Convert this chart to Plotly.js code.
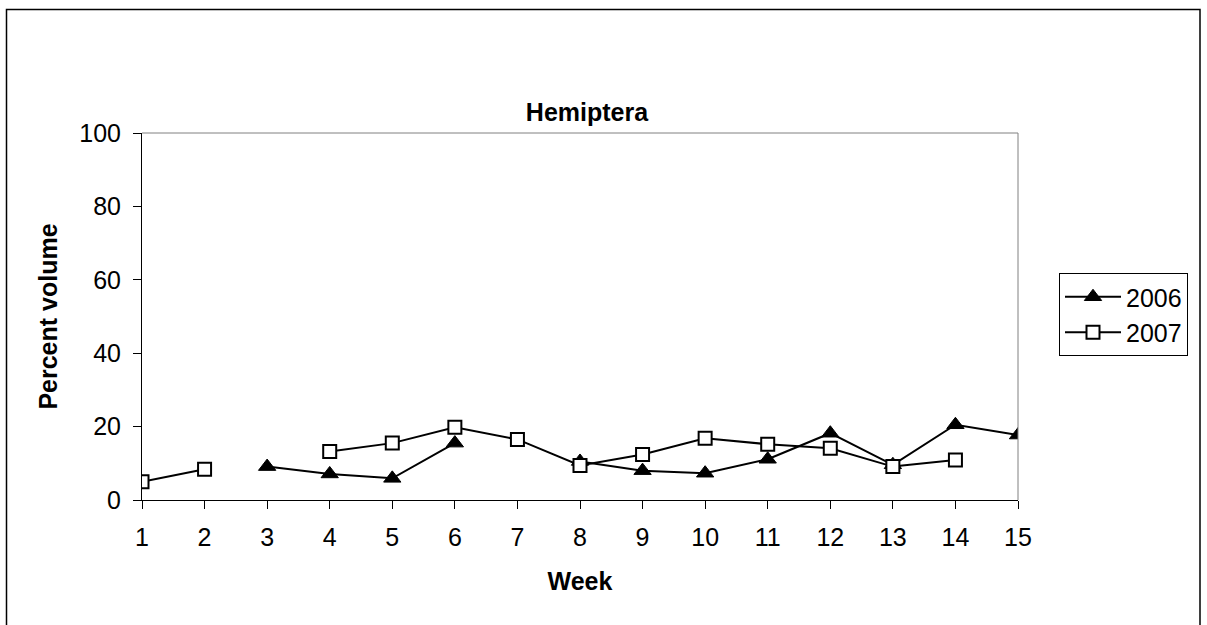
<!DOCTYPE html>
<html>
<head>
<meta charset="utf-8">
<script src="https://cdn.plot.ly/plotly-3.0.1.min.js"></script>
<style>
html,body{margin:0;padding:0;background:#fff;}
#chart{width:1207px;height:625px;}
</style>
</head>
<body>
<div id="chart"></div>
<script>
const weeks = [1,2,3,4,5,6,7,8,9,10,11,12,13,14,15];
const tickLabels = ["1","2","3","4","5","6","7","8","9","10","11","12","13","14","15"];
const series2006 = [null,null,9.1,7.1,5.9,15.5,null,10.5,8.0,7.3,11.1,18.2,9.6,20.5,17.7];
const series2007 = [5.0,8.4,null,13.2,15.5,19.8,16.5,9.4,12.4,16.8,15.2,14.1,9.1,10.9,null];
const yTicks = [0,20,40,60,80,100];

const W = 1207, H = 625;
const L = 142, R = 1018, T = 133, B = 500;
const pw = R - L, ph = B - T;
const px = v => (v - L) / pw;
const py = v => (B - v) / ph;

const font = 'Arial, "Liberation Sans", Helvetica, sans-serif';

const traces = [
  {
    x: weeks, y: series2006, name: '2006', type: 'scatter', mode: 'lines+markers',
    connectgaps: false,
    line: {color: '#000', width: 2},
    marker: {symbol: 'triangle-up', size: 15, color: '#000', line: {color: '#000', width: 1}}
  },
  {
    x: weeks, y: series2007, name: '2007', type: 'scatter', mode: 'lines+markers',
    connectgaps: false,
    line: {color: '#000', width: 2},
    marker: {symbol: 'square', size: 13, color: '#fff', line: {color: '#000', width: 2}}
  }
];

const layout = {
  width: W, height: H,
  margin: {l: L, r: W - R, t: T, b: H - B, pad: 0},
  paper_bgcolor: '#fff', plot_bgcolor: '#fff',
  showlegend: true,
  font: {family: font, size: 25, color: '#000'},
  title: {
    text: '<b>Hemiptera</b>',
    font: {family: font, size: 25, color: '#000'},
    x: px(587), xref: 'paper', xanchor: 'center',
    y: 1 - 112 / H, yref: 'container', yanchor: 'middle'
  },
  xaxis: {
    range: [1, 15],
    tickmode: 'array', tickvals: weeks, ticktext: tickLabels,
    showgrid: false, zeroline: false,
    showline: true, linecolor: '#000', linewidth: 1,
    ticks: 'outside', ticklen: 8, tickcolor: '#000', tickwidth: 1,
    ticklabelstandoff: 7,
    tickfont: {family: font, size: 25, color: '#000'},
    title: {text: '<b>Week</b>', font: {family: font, size: 25, color: '#000'}, standoff: 22},
    fixedrange: true
  },
  yaxis: {
    range: [0, 100],
    tickmode: 'array', tickvals: yTicks,
    showgrid: false, zeroline: false,
    showline: true, linecolor: '#000', linewidth: 1,
    ticks: 'outside', ticklen: 8, tickcolor: '#000', tickwidth: 1,
    ticklabelstandoff: 7,
    tickfont: {family: font, size: 25, color: '#000'},
    title: {text: '<b>Percent volume</b>', font: {family: font, size: 25, color: '#000'}, standoff: 14},
    fixedrange: true
  },
  legend: {
    x: px(1059), y: py(273), xanchor: 'left', yanchor: 'top',
    bordercolor: '#000', borderwidth: 1, bgcolor: '#fff',
    font: {family: font, size: 25, color: '#000'},
    itemwidth: 56,
    tracegroupgap: 0
  },
  shapes: [
    {type: 'line', xref: 'paper', yref: 'paper', x0: 0, x1: 1, y0: 1, y1: 1, line: {color: '#808080', width: 1}},
    {type: 'line', xref: 'paper', yref: 'paper', x0: 1, x1: 1, y0: 0, y1: 1, line: {color: '#808080', width: 1}},
    {type: 'rect', xref: 'paper', yref: 'paper', layer: 'below',
     x0: px(6.5), x1: px(1200), y0: py(640), y1: py(9.5),
     line: {color: '#000', width: 1.5}, fillcolor: 'rgba(0,0,0,0)'}
  ]
};

Plotly.newPlot('chart', traces, layout, {displayModeBar: false, staticPlot: true});
</script>
</body>
</html>
